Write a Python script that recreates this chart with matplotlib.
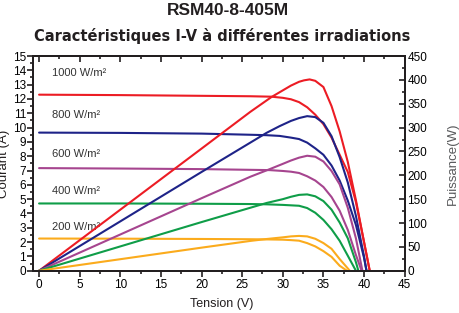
import matplotlib
matplotlib.use('Agg')
import matplotlib.pyplot as plt
from matplotlib.ticker import MultipleLocator

plt.rcParams['font.family'] = ['Liberation Sans', 'DejaVu Sans']

# I-V curves (volts, amps) and P-V curves (volts, watts)
v_iv_1000 = [0, 10, 20, 26, 28.6, 30, 31, 32, 33, 34, 35, 36, 37, 38, 39, 40, 40.7]
i_1000 = [12.3, 12.27, 12.22, 12.19, 12.16, 12.08, 11.98, 11.78, 11.42, 10.9, 10.24, 9.3, 8.1, 6.9, 4.8, 2.0, 0]
v_p_1000 = [0, 10, 20, 26, 28.6, 30, 31, 32, 32.6, 33.3, 34, 35, 36, 37, 38, 39, 40, 40.7]
p_1000 = [0, 128, 256, 333, 364, 378, 388, 396, 399, 401, 398, 385, 345, 292, 228, 148, 60, 0]

v_iv_800 = [0, 10, 20, 26, 28, 29.6, 31, 32, 33, 34, 35, 36, 37, 38, 39, 40, 40.3]
i_800 = [9.65, 9.63, 9.58, 9.5, 9.47, 9.42, 9.3, 9.2, 8.95, 8.55, 8.1, 7.35, 6.3, 4.9, 3.2, 0.9, 0]
v_p_800 = [0, 10, 20, 26, 28, 29.6, 31, 32, 33, 34, 35, 36, 37, 38, 39, 40, 40.3]
p_800 = [0, 103.5, 207, 268.5, 289, 303, 314, 320, 324, 322, 310, 282, 238, 185, 115, 30, 0]

v_iv_600 = [0, 10, 20, 26, 28.4, 30, 31, 32, 33, 34, 35, 36, 37, 38, 39, 39.7]
i_600 = [7.17, 7.14, 7.1, 7.05, 7.03, 6.97, 6.92, 6.83, 6.6, 6.3, 5.85, 5.15, 4.19, 2.85, 1.1, 0]
v_p_600 = [0, 10, 20, 26, 28.4, 30, 31, 32, 33, 34, 35, 36, 37, 38, 39, 39.8]
p_600 = [0, 76, 152, 197, 213, 224, 231, 237, 241, 239, 229, 209, 181, 132, 68, 0]

v_iv_400 = [0, 10, 20, 26, 28, 30, 31, 32, 33, 34, 35, 36, 37, 38, 39.0]
i_400 = [4.7, 4.7, 4.68, 4.66, 4.64, 4.6, 4.57, 4.54, 4.38, 4.05, 3.55, 2.9, 2.09, 1.05, 0]
v_p_400 = [0, 10, 20, 26, 28, 30, 31, 32, 33, 34, 35, 36, 37, 38, 39, 39.3]
p_400 = [0, 51, 102, 132, 142, 150, 155, 159, 160, 156, 146, 128, 101, 68, 18, 0]

v_iv_200 = [0, 10, 20, 26, 28, 30, 31, 32, 33, 34, 35, 36, 37, 37.9]
i_200 = [2.25, 2.24, 2.22, 2.2, 2.19, 2.17, 2.14, 2.1, 1.93, 1.7, 1.37, 0.97, 0.35, 0]
v_p_200 = [0, 10, 20, 26, 28, 30, 31, 32, 33, 34, 35, 36, 37, 38.25]
p_200 = [0, 24.2, 48.4, 62.5, 66.5, 70, 72, 73, 72, 67, 58, 46, 24.5, 0]

labels = ['1000 W/m²', '800 W/m²', '600 W/m²', '400 W/m²', '200 W/m²']
label_y = [13.8, 10.9, 8.15, 5.6, 3.05]
colors = ['#ec1c24', '#1e2388', '#a6458f', '#0f9d48', '#fbab1c']

iv = [(v_iv_1000, i_1000), (v_iv_800, i_800), (v_iv_600, i_600), (v_iv_400, i_400), (v_iv_200, i_200)]
pv = [(v_p_1000, p_1000), (v_p_800, p_800), (v_p_600, p_600), (v_p_400, p_400), (v_p_200, p_200)]

fig = plt.figure(figsize=(4.6, 3.13), dpi=100)
ax = fig.add_axes([0.0717, 0.135, 0.808, 0.686])
ax2 = ax.twinx()

for (v, i), c in zip(iv, colors):
    ax.plot(v, i, color=c, lw=1.5, solid_capstyle='round', solid_joinstyle='round')
for (v, p), c in zip(pv, colors):
    ax2.plot(v, p, color=c, lw=1.5, solid_capstyle='round', solid_joinstyle='round')

for txt, y in zip(labels, label_y):
    ax.text(1.6, y, txt, fontsize=8, color='#333333', va='center', ha='left')

ax.set_xlim(-0.75, 45)
ax.set_ylim(0, 15)
ax2.set_ylim(0, 450)

ax.xaxis.set_major_locator(MultipleLocator(5))
ax.xaxis.set_minor_locator(MultipleLocator(2.5))
ax.yaxis.set_major_locator(MultipleLocator(1))
ax.yaxis.set_minor_locator(MultipleLocator(0.5))
ax2.yaxis.set_major_locator(MultipleLocator(50))
ax2.yaxis.set_minor_locator(MultipleLocator(25))

for a in (ax, ax2):
    for s in a.spines.values():
        s.set_linewidth(1.4)
        s.set_color('#231f20')

ax.tick_params(axis='x', which='both', direction='out', top=False, labelsize=8.5,
               color='#231f20', width=1.2, pad=2)
ax.tick_params(axis='x', which='major', length=4)
ax.tick_params(axis='x', which='minor', length=2.5)
ax.tick_params(axis='y', which='both', direction='out', labelsize=8.5, color='#231f20',
               width=1.2, pad=1)
ax.tick_params(axis='y', which='major', length=4)
ax.tick_params(axis='y', which='minor', length=2.5)
ax2.tick_params(axis='y', which='both', direction='in', labelsize=8.5, color='#231f20',
                width=1.2, pad=2)
ax2.tick_params(axis='y', which='major', length=4)
ax2.tick_params(axis='y', which='minor', length=2.5)

# top spine ticks pointing down
sec = ax.secondary_xaxis('top')
sec.xaxis.set_major_locator(MultipleLocator(5))
sec.xaxis.set_minor_locator(MultipleLocator(2.5))
sec.tick_params(axis='x', which='both', direction='in', labeltop=False, color='#231f20', width=1.2)
sec.tick_params(axis='x', which='major', length=4)
sec.tick_params(axis='x', which='minor', length=2.5)
sec.spines['top'].set_linewidth(1.4)

ax.set_xlabel('Tension (V)', fontsize=9, color='#231f20')
ax.xaxis.set_label_coords(0.508, -0.125)
ax.set_ylabel('Courant (A)', fontsize=9.5, color='#231f20')
ax.yaxis.set_label_coords(-0.062, 0.5)
ax2.set_ylabel('Puissance(W)', fontsize=9.5, color='#58595b')
ax2.yaxis.set_label_coords(1.113, 0.5)

fig.text(0.496, 0.968, 'RSM40-8-405M', fontsize=12.5, fontweight='bold',
         ha='center', va='center', color='#231f20')
fig.text(0.482, 0.885, 'Caractéristiques I-V à différentes irradiations', fontsize=10.5,
         fontweight='bold', ha='center', va='center', color='#231f20',
         family='DejaVu Sans')

fig.savefig('out.png', dpi=100)
